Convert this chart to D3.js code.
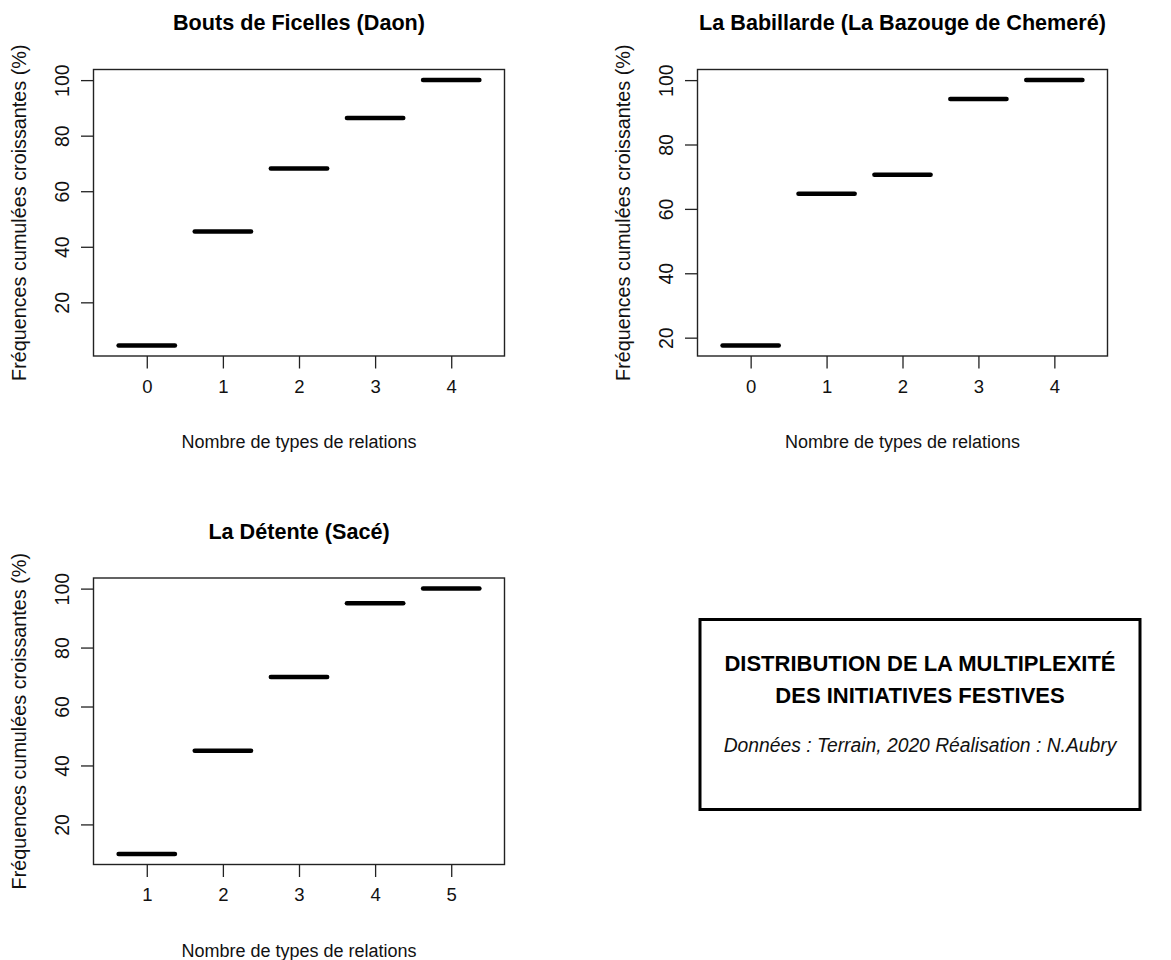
<!DOCTYPE html>
<html>
<head>
<meta charset="utf-8">
<script src="https://cdn.jsdelivr.net/npm/d3@7"></script>
<style>
  body { margin: 0; background: #fff; }
  svg { font-family: "Liberation Sans", Arial, Helvetica, sans-serif; }
</style>
</head>
<body>
<svg id="chart" width="1171" height="960"></svg>
<script>
// panel titles
const titles = ["Bouts de Ficelles (Daon)", "La Babillarde (La Bazouge de Chemeré)", "La Détente (Sacé)"];

// number of relation types (x categories)
const daonX = [0, 1, 2, 3, 4];
const bazougeX = [0, 1, 2, 3, 4];
const saceX = [1, 2, 3, 4, 5];

// cumulative frequencies (%)
const daonY = [4.5, 45.5, 68.2, 86.4, 100];
const bazougeY = [17.6, 64.7, 70.6, 94.1, 100];
const saceY = [10, 45, 70, 95, 100];

const yTicks = [20, 40, 60, 80, 100];

const xLabel = "Nombre de types de relations";
const yLabel = "Fréquences cumulées croissantes (%)";
const boxTitle = ["DISTRIBUTION DE LA MULTIPLEXITÉ", "DES INITIATIVES FESTIVES"];
const boxCredit = "Données : Terrain, 2020 Réalisation : N.Aubry";

const svg = d3.select("#chart");

const panels = [
  { title: titles[0], xs: daonX, ys: daonY, box: { left: 93.5, right: 504.5, top: 69.5, bottom: 356 } },
  { title: titles[1], xs: bazougeX, ys: bazougeY, box: { left: 697.5, right: 1107.5, top: 69.5, bottom: 356 } },
  { title: titles[2], xs: saceX, ys: saceY, box: { left: 93.5, right: 504.5, top: 578, bottom: 864.5 } }
];

panels.forEach(p => {
  const b = p.box;
  const data = p.xs.map((x, i) => ({ x, y: p.ys[i] }));

  // R-style padding around the segments
  const xMin = d3.min(p.xs) - 0.4, xMax = d3.max(p.xs) + 0.4;
  const xPad = (xMax - xMin) * 0.0625;
  const x = d3.scaleLinear().domain([xMin - xPad, xMax + xPad]).range([b.left, b.right]);

  const yMin = d3.min(p.ys), yMax = d3.max(p.ys);
  const yPad = (yMax - yMin) * 0.04;
  const y = d3.scaleLinear().domain([yMin - yPad, yMax + yPad]).range([b.bottom, b.top]);

  const g = svg.append("g");

  // x axis
  const xAxis = g.append("g")
    .attr("transform", `translate(0, ${b.bottom})`)
    .call(d3.axisBottom(x).tickValues(p.xs).tickSize(12.5).tickPadding(11).tickFormat(d3.format("d")));
  xAxis.select(".domain").remove();
  xAxis.selectAll("line").attr("stroke", "#222").attr("stroke-width", 1.3);
  xAxis.selectAll("text").style("font-size", "18.5px").attr("fill", "#111");

  // y axis, labels rotated like R's default las=0
  const yAxis = g.append("g")
    .attr("transform", `translate(${b.left}, 0)`)
    .call(d3.axisLeft(y).tickValues(yTicks.filter(t => t >= y.domain()[0])).tickSize(12.5));
  yAxis.select(".domain").remove();
  yAxis.selectAll("line").attr("stroke", "#222").attr("stroke-width", 1.3);
  yAxis.selectAll("text")
    .attr("x", 0).attr("y", 0)
    .attr("text-anchor", "middle")
    .attr("transform", "translate(-31.5, 0) rotate(-90)")
    .attr("dy", "0.35em")
    .style("font-size", "19.5px").attr("fill", "#111");

  // frame
  g.append("rect")
    .attr("x", b.left).attr("y", b.top)
    .attr("width", b.right - b.left).attr("height", b.bottom - b.top)
    .attr("fill", "none").attr("stroke", "#222").attr("stroke-width", 1.4);

  // step segments
  g.selectAll(".seg")
    .data(data)
    .enter()
    .append("line")
    .attr("class", "seg")
    .attr("x1", d => x(d.x - 0.37))
    .attr("x2", d => x(d.x + 0.37))
    .attr("y1", d => y(d.y))
    .attr("y2", d => y(d.y))
    .attr("stroke", "#000")
    .attr("stroke-width", 4.5)
    .attr("stroke-linecap", "round");

  // titles and labels
  g.append("text")
    .attr("x", (b.left + b.right) / 2)
    .attr("y", b.top - 47)
    .attr("dy", "0.35em")
    .attr("text-anchor", "middle")
    .style("font-size", "21.6px")
    .style("font-weight", "bold")
    .text(p.title);

  g.append("text")
    .attr("x", (b.left + b.right) / 2)
    .attr("y", b.bottom + 86)
    .attr("dy", "0.35em")
    .attr("text-anchor", "middle")
    .style("font-size", "18px")
    .attr("fill", "#111")
    .text(xLabel);

  g.append("text")
    .attr("transform", `translate(${b.left - 74.5}, ${(b.top + b.bottom) / 2}) rotate(-90)`)
    .attr("dy", "0.35em")
    .attr("text-anchor", "middle")
    .style("font-size", "19.8px")
    .attr("fill", "#111")
    .text(yLabel);
});

// caption box
const cap = svg.append("g");
cap.append("rect")
  .attr("x", 700).attr("y", 619.5)
  .attr("width", 440).attr("height", 190)
  .attr("fill", "none").attr("stroke", "#000").attr("stroke-width", 3);

cap.selectAll(".boxtitle")
  .data(boxTitle)
  .enter()
  .append("text")
  .attr("class", "boxtitle")
  .attr("x", 920)
  .attr("y", (d, i) => 670.5 + i * 32.5)
  .attr("text-anchor", "middle")
  .style("font-size", "22px")
  .style("font-weight", "bold")
  .text(d => d);

cap.append("text")
  .attr("x", 920)
  .attr("y", 751.5)
  .attr("text-anchor", "middle")
  .style("font-size", "19.3px")
  .style("font-style", "italic")
  .attr("fill", "#111")
  .text(boxCredit);
</script>
</body>
</html>
